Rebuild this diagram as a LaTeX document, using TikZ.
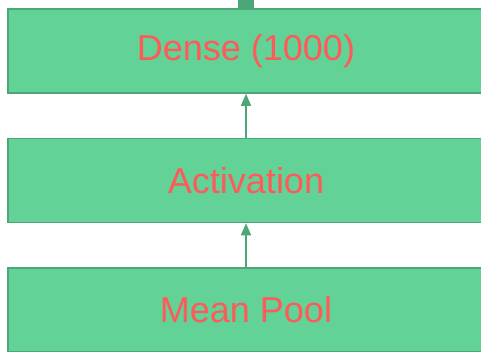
\documentclass[tikz,border=0pt]{standalone}
\usepackage{fontspec}
\setmainfont{Liberation Sans}
\usetikzlibrary{arrows.meta, positioning}
\definecolor{layerfill}{HTML}{63D297}
\definecolor{layeredge}{HTML}{4DA677}
\definecolor{layertext}{HTML}{FF5A5A}
\tikzset{
  layer/.style={draw=layeredge, line width=1.5pt, fill=layerfill, text=layertext,
    minimum width=476pt, minimum height=84pt, inner sep=0pt,
    font=\fontsize{36}{40}\selectfont},
  flow/.style={-{Triangle[length=12pt, width=10pt]}, line width=1.6pt, draw=layeredge},
}

\begin{document}
\begin{tikzpicture}[x=1pt, y=-1pt]
  \useasboundingbox (0,0) rectangle (481,351);
  \clip (0,0) rectangle (481,351);
  % Three stacked layers, cut at the right edge
  \node[layer] (dense) at (246, 51) {Dense (1000)};
  \node[layer] (act)   at (246, 180.5) {Activation};
  \node[layer] (pool)  at (246, 310) {Mean Pool};
  % Input from the layer above (off the picture)
  \coordinate (above) at (246, -10);
  \draw[line width=16pt, draw=layeredge] (dense.north) -- (above);
  % Data flow upwards
  \draw[flow] (pool.north) -- (act.south);
  \draw[flow] (act.north) -- (dense.south);
\end{tikzpicture}
\end{document}
